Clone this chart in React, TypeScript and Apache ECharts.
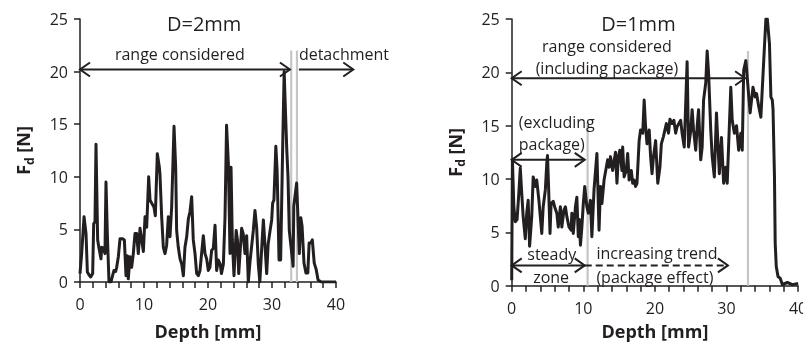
import React, { useEffect, useRef } from 'react';
import * as echarts from 'echarts';

// ---------- data ----------
const LEFT_DEPTH = [0,0.26,0.63,0.94,1.15,1.46,1.67,1.98,2.14,2.34,2.5,2.76,2.97,3.28,3.39,3.65,3.9,4.06,4.27,4.53,4.84,5.05,5.31,5.57,5.73,5.99,6.25,6.67,6.93,7.19,7.4,7.55,7.81,8.07,8.33,8.59,8.85,9.11,9.38,9.64,9.9,10.16,10.42,10.73,10.94,11.2,11.56,11.77,12.08,12.4,12.5,12.76,13.02,13.28,13.54,13.8,14.06,14.32,14.69,14.95,15.1,15.36,15.63,15.89,16.15,16.4,16.67,16.93,17.19,17.45,17.7,17.97,18.23,18.49,18.75,19.0,19.27,19.53,19.79,20.05,20.3,20.57,20.83,21.1,21.35,21.6,21.9,22.1,22.4,22.66,22.9,23.18,23.44,23.6,23.8,24.06,24.4,24.6,24.8,25.0,25.26,25.5,25.78,26.04,26.3,26.56,26.8,27.08,27.34,27.6,27.86,28.1,28.4,28.65,28.9,29.17,29.4,29.7,29.95,30.1,30.3,30.6,30.8,31.1,31.35,31.67,31.9,32.1,32.3,32.5,32.7,33.3,33.4,33.85,34.27,34.5,34.7,35.0,35.3,35.6,35.8,36.05,36.3,36.6,36.9,37.2,37.7,40];
const LEFT_FORCE = [0.8,2.7,6.2,4.6,0.95,0.63,0.48,0.8,5.55,5.7,13.1,4.0,3.2,2.2,3.3,3.2,2.7,9.5,4.6,0,0,0.5,1.1,1.0,1.4,2.4,4.1,4.1,4.0,0.6,2.5,0.3,2.4,1.4,2.7,4.6,4.6,2.7,5.1,4.0,2.9,6.2,5.2,10.0,7.8,7.5,7.1,6.3,12.2,10.9,10.2,6.2,3.3,2.7,3.5,6.2,4.3,7.1,14.8,10.9,4.9,3.3,2.2,1.7,0.6,3.3,4.3,6.0,6.7,8.1,4.0,2.7,0.8,0.6,1.1,2.7,4.4,2.7,2.2,1.1,1.4,3.0,3.2,5.4,1.1,2.1,1.7,0.8,1.7,6.2,14.9,11.3,2.7,10.9,4.0,0.6,4.9,4.0,0.8,2.7,5.1,4.6,2.7,4.4,0,1.9,3.3,4.9,6.8,5.2,1.7,0,3.3,5.9,3.5,0.8,3.6,4.9,5.9,7.5,7.8,12.9,10.6,2.1,2.1,12.9,20.0,16.3,12.7,10.0,4.9,1.5,7.2,9.4,2.7,6.1,5.3,1.8,0.85,0.85,3.7,3.7,4.0,1.8,1.2,0.2,0,0];

const RIGHT_DEPTH = [0,0.1,0.3,0.5,0.75,1.0,1.2,1.4,1.6,1.9,2.1,2.3,2.5,2.8,3.0,3.3,3.5,3.8,4.2,4.4,4.7,4.9,5.0,5.15,5.35,5.5,5.8,6.0,6.3,6.5,6.8,7.0,7.3,7.5,7.7,8.0,8.3,8.4,8.6,8.9,9.1,9.3,9.45,9.6,9.8,10.0,10.2,10.4,10.5,10.7,11.0,11.2,11.5,11.9,12.2,12.4,12.6,12.9,13.4,13.6,13.8,14.1,14.5,14.7,14.9,15.1,15.4,15.5,15.7,16.0,16.2,16.4,16.7,16.9,17.1,17.3,17.5,17.8,18.0,18.3,18.5,18.7,18.9,19.2,19.4,19.6,19.8,20.1,20.4,20.7,20.9,21.2,21.6,21.9,22.1,22.4,22.65,22.9,23.1,23.35,23.6,23.8,24.1,24.5,24.7,25.0,25.2,25.4,25.7,25.9,26.1,26.4,26.6,26.8,27.1,27.3,27.5,27.8,28.0,28.3,28.6,29.0,29.3,29.6,29.9,30.1,30.6,30.8,31.1,31.4,31.7,32.0,32.2,32.4,32.7,33.3,33.7,34.0,34.2,34.5,34.8,35.2,35.5,35.7,36.0,36.2,36.4,36.5,36.7,36.8,36.95,37.2,37.5,37.8,38.5,39.2,40];
const RIGHT_FORCE = [0.5,11.8,7.4,6.0,6.2,8.7,11.0,8.7,6.5,4.4,6.8,8.0,3.7,6.5,10.2,9.3,9.9,8.0,4.9,7.4,9.0,11.5,12.2,9.3,4.9,7.7,7.9,7.4,6.8,5.5,7.4,5.5,7.1,7.4,6.5,5.5,5.2,6.8,4.9,7.4,8.3,4.6,6.2,3.8,5.5,7.7,9.3,8.0,7.4,6.8,8.0,4.6,9.0,12.4,5.2,9.3,7.7,9.9,11.8,11.1,12.1,10.8,12.5,9.6,12.1,12.7,10.8,13.0,10.2,10.8,12.4,9.9,10.8,9.6,9.9,9.3,9.6,13.6,14.6,14.3,17.4,14.9,13.3,14.6,12.1,10.5,12.1,13.6,9.6,11.1,13.3,14.0,15.2,14.3,15.6,15.2,15.5,14.3,14.9,15.2,15.5,14.3,13.0,21.0,13.0,14.5,16.5,14.6,12.7,14.9,16.5,11.8,13.0,17.4,19.0,22.0,19.9,14.6,12.1,10.2,16.2,10.5,13.9,9.6,11.1,9.6,18.6,15.5,14.3,15.0,12.7,14.3,12.7,20.2,21.1,16.2,18.6,17.7,18.0,16.8,15.8,21.1,25.0,25.0,22.7,17.7,17.4,16.5,10.2,4.0,1.8,0.85,0.7,0.1,0.3,0.1,0.2];

const X_LABELS = ['0', '10', '20', '30', '40'];
const Y_LABELS = ['0', '5', '10', '15', '20', '25'];

// separators (gray vertical lines): [depth, top]
const LEFT_SEPARATORS = [[33.0, 22.0], [33.9, 22.0]];
const RIGHT_SEPARATORS = [[10.6, 15.35], [33.0, 22.0]];

// annotation arrows in data units: [x1, x2, y, heads, dashed]
const LEFT_ARROWS: [number, number, number, string, boolean][] = [
  [0, 32.8, 20.2, 'both', false],
  [34.2, 42.7, 20.2, 'end', false],
];
const RIGHT_ARROWS: [number, number, number, string, boolean][] = [
  [0, 32.6, 19.45, 'both', false],
  [0, 10.2, 11.8, 'both', false],
  [0, 10.2, 1.9, 'both', false],
  [10.2, 30.2, 1.9, 'end', true],
];
// annotation texts: [text, x, y, align]
const LEFT_TEXTS: [string, number, number, string][] = [
  ['D=2mm', 19.4, 24.6, 'title'],
  ['range considered', 15.6, 21.7, 'center'],
  ['detachment', 34.2, 21.7, 'left'],
];
const RIGHT_TEXTS: [string, number, number, string][] = [
  ['D=1mm', 17.7, 24.6, 'title'],
  ['range considered', 13.3, 22.5, 'center'],
  ['(including package)', 13.3, 20.45, 'center'],
  ['(excluding', 6.3, 15.3, 'center'],
  ['package)', 5.6, 13.25, 'center'],
  ['steady', 5.6, 3.0, 'center'],
  ['zone', 5.5, 0.85, 'center'],
  ['increasing trend', 20.3, 3.05, 'center'],
  ['(package effect)', 20.0, 0.8, 'center'],
];

const INK = '#231f20';
const GRAY = '#c6c6c6';
const FONT = '"Open Sans", sans-serif';

function zip(a: number[], b: number[]) {
  return a.map((v, i) => [v, b[i]]);
}

export default function App() {
  const ref = useRef<HTMLDivElement>(null);
  useEffect(() => {
    document.body.style.margin = '0';
    const chart = echarts.init(ref.current!, null, { renderer: 'svg' });
    const mkX = (gi: number, gap: number) => ({
      type: 'value', gridIndex: gi, min: 0, max: 40, interval: 2,
      name: 'Depth [mm]', nameLocation: 'middle', nameGap: gap,
      nameTextStyle: { fontFamily: FONT, fontWeight: 'bold', fontSize: 18, color: INK },
      axisLine: { show: true, onZero: false, lineStyle: { color: INK, width: 1.5 } },
      axisTick: { show: true, interval: 0, length: 6, lineStyle: { color: INK, width: 1.5 } },
      axisLabel: {
        show: true, margin: 14, interval: 0, fontFamily: FONT, fontSize: 16, color: INK,
        hideOverlap: false,
        formatter: (v: number) => (X_LABELS.includes(String(v)) ? String(v) : ''),
      },
      splitLine: { show: false },
    });
    const mkY = (gi: number, gap: number) => ({
      type: 'value', gridIndex: gi, min: 0, max: 25, interval: 5,
      name: '{b|F}{s|d}{b| [N]}', nameLocation: 'middle', nameGap: gap,
      nameTextStyle: {
        rich: {
          b: { fontFamily: FONT, fontWeight: 'bold', fontSize: 18, color: INK, lineHeight: 24 },
          s: { fontFamily: FONT, fontWeight: 'bold', fontSize: 12, color: INK, lineHeight: 12, verticalAlign: 'bottom' },
        },
      },
      axisLine: { show: true, lineStyle: { color: INK, width: 1.5 } },
      axisTick: { show: true, length: 6, lineStyle: { color: INK, width: 1.5 } },
      axisLabel: {
        show: true, margin: 12, fontFamily: FONT, fontSize: 16, color: INK,
        formatter: (v: number) => (Y_LABELS.includes(String(v)) ? String(v) : ''),
      },
      splitLine: { show: false },
    });
    const sepSeries = (gi: number, seps: number[][]) =>
      seps.map((s) => ({
        type: 'line', xAxisIndex: gi, yAxisIndex: gi, data: [[s[0], 0], [s[0], s[1]]],
        showSymbol: false, silent: true, z: 1,
        lineStyle: { color: GRAY, width: 2.2 },
      }));
    chart.setOption({
      animation: false,
      grid: [
        { left: 80, top: 19, width: 256, height: 263, containLabel: false, outerBoundsMode: 'none' },
        { left: 511.7, top: 19, width: 286.4, height: 266.7, containLabel: false, outerBoundsMode: 'none' },
      ],
      xAxis: [mkX(0, 40), mkX(1, 36.5)],
      yAxis: [mkY(0, 45), mkY(1, 45)],
      series: [
        ...sepSeries(0, LEFT_SEPARATORS),
        ...sepSeries(1, RIGHT_SEPARATORS),
        {
          type: 'line', xAxisIndex: 0, yAxisIndex: 0, data: zip(LEFT_DEPTH, LEFT_FORCE),
          showSymbol: false, z: 3, lineStyle: { color: INK, width: 3, join: 'round' },
        },
        {
          type: 'line', xAxisIndex: 1, yAxisIndex: 1, data: zip(RIGHT_DEPTH, RIGHT_FORCE),
          showSymbol: false, z: 3, lineStyle: { color: INK, width: 3, join: 'round' },
        },
      ],
    });

    const graphics: any[] = [];
    const addArrows = (gi: number, arrows: [number, number, number, string, boolean][]) => {
      arrows.forEach(([x1, x2, y, heads, dashed]) => {
        const p1 = chart.convertToPixel({ gridIndex: gi }, [x1, y]) as number[];
        const p2 = chart.convertToPixel({ gridIndex: gi }, [x2, y]) as number[];
        graphics.push({
          type: 'line', z: 10,
          shape: { x1: p1[0], y1: p1[1], x2: p2[0], y2: p2[1] },
          style: { stroke: INK, lineWidth: 2, lineDash: dashed ? [7, 4] : null },
        });
        const L = 10, H = 7;
        graphics.push({
          type: 'polyline', z: 10,
          shape: { points: [[p2[0] - L, p2[1] - H], [p2[0], p2[1]], [p2[0] - L, p2[1] + H]] },
          style: { stroke: INK, lineWidth: 2, fill: null },
        });
        if (heads === 'both') {
          graphics.push({
            type: 'polyline', z: 10,
            shape: { points: [[p1[0] + L, p1[1] - H], [p1[0], p1[1]], [p1[0] + L, p1[1] + H]] },
            style: { stroke: INK, lineWidth: 2, fill: null },
          });
        }
      });
    };
    const addTexts = (gi: number, texts: [string, number, number, string][]) => {
      texts.forEach(([t, x, y, a]) => {
        const p = chart.convertToPixel({ gridIndex: gi }, [x, y]) as number[];
        const isTitle = a === 'title';
        const align = isTitle ? 'center' : a;
        graphics.push({
          type: 'text', z: 11, x: p[0], y: p[1],
          style: {
            text: t, fill: INK, font: `${isTitle ? 20 : 16}px ${FONT}`,
            align, textAlign: align, verticalAlign: 'middle', textVerticalAlign: 'middle',
          },
        });
      });
    };
    addArrows(0, LEFT_ARROWS);
    addArrows(1, RIGHT_ARROWS);
    addTexts(0, LEFT_TEXTS);
    addTexts(1, RIGHT_TEXTS);
    chart.setOption({ graphic: graphics });

    return () => chart.dispose();
  }, []);
  return <div ref={ref} style={{ position: 'fixed', left: 0, top: 0, width: 803, height: 344 }} />;
}
